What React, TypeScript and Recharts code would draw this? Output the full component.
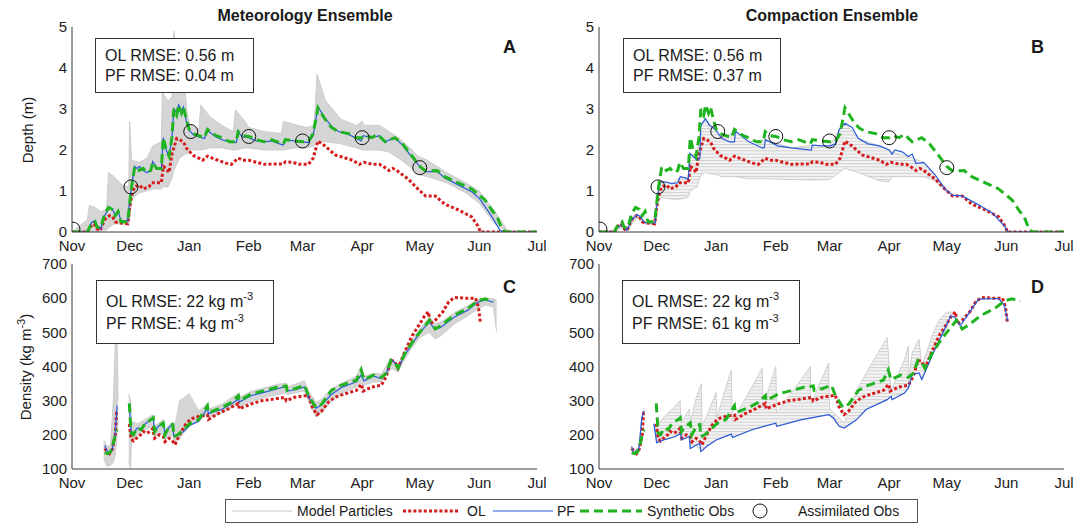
import React from "react";
import { ComposedChart, Line, Area, XAxis, YAxis } from "recharts";

const FONT = '"Liberation Sans", Arial, Helvetica, sans-serif';

// days since Nov 1
const MONTH_TICKS = [0, 30, 61, 92, 120, 151, 181, 212, 242];
const MONTH_LABELS = ["Nov", "Dec", "Jan", "Feb", "Mar", "Apr", "May", "Jun", "Jul"];
const DEPTH_TICKS = [0, 1, 2, 3, 4, 5];
const DENS_TICKS = [100, 200, 300, 400, 500, 600, 700];
const DENS_MINOR = [120, 140, 160, 180, 220, 240, 260, 280, 320, 340, 360, 380, 420, 440, 460, 480, 520, 540, 560, 580, 620, 640, 660, 680];

// ---- depth (m) ----
const synDepth = [
  [0, 0], [8, 0], [10, 0.2], [12, 0.25], [13, 0.12], [15, 0.1], [17, 0.45], [19, 0.6], [21, 0.55], [22.5, 0.4],
  [24, 0.5], [25.5, 0.25], [29, 0.25], [30, 0.7], [31, 1.1], [32.5, 1.55], [34, 1.6], [35, 1.5], [37, 1.55], [39, 1.45],
  [41, 1.5], [42, 1.7], [44, 1.55], [46.5, 1.55], [47.5, 2.3], [49, 2.0], [50.5, 1.85], [52, 2.3], [53, 3.0], [54.5, 2.85],
  [55.5, 3.1], [57, 2.9], [58, 3.05], [59.5, 2.75], [61, 2.5], [63, 2.4], [66, 2.35], [69, 2.3], [70.5, 2.5], [72, 2.45],
  [75, 2.35], [78, 2.3], [82, 2.2], [85.5, 2.2], [86.5, 2.45], [89, 2.35], [92, 2.33], [96, 2.25], [100, 2.2], [104, 2.25],
  [108, 2.18], [110, 2.15], [111, 2.25], [116, 2.22], [120, 2.2], [123, 2.2], [125.5, 2.4], [128, 3.03], [131.7, 2.75],
  [135, 2.55], [138.6, 2.45], [144, 2.4], [148, 2.3], [151, 2.3], [153, 2.35], [156, 2.3], [159, 2.38], [163, 2.2],
  [168, 2.3], [172, 2.15], [177, 1.85], [181, 1.6], [184, 1.49], [190, 1.5], [194, 1.35], [201, 1.2], [208, 1.05],
  [215, 0.78], [219, 0.5], [221, 0.4], [224, 0.05], [226, 0], [242, 0],
];
const olDepth = [
  [0, 0], [8, 0], [10, 0.15], [11.5, 0.2], [13, 0.08], [14.5, 0.03], [17, 0.3], [19.5, 0.4], [21, 0.38], [22.5, 0.25],
  [24, 0.22], [29, 0.2], [30.5, 0.75], [31.5, 0.95], [32.5, 1.1], [35, 1.15], [37, 1.05], [40, 1.1], [41.5, 1.2], [44, 1.2],
  [46.5, 1.2], [47.5, 1.6], [49, 1.55], [50.5, 1.45], [52, 1.9], [53, 2.05], [54.5, 2.28], [56, 2.25], [58, 2.2],
  [59.5, 2.05], [61, 1.97], [63, 1.87], [66, 1.8], [68, 1.75], [70.5, 1.85], [73, 1.8], [76, 1.75], [80, 1.68], [83, 1.65],
  [86.5, 1.8], [89, 1.75], [92, 1.75], [96, 1.7], [100, 1.65], [105, 1.66], [110, 1.66], [111, 1.71], [115, 1.7],
  [118, 1.65], [123, 1.65], [125.5, 1.8], [128, 2.22], [131.7, 2.1], [134, 2.0], [137, 1.88], [142.7, 1.8], [146, 1.75],
  [149.5, 1.65], [152, 1.7], [156.5, 1.65], [160, 1.65], [162, 1.6], [165, 1.5], [167, 1.55], [169, 1.5], [175, 1.29],
  [180, 1.05], [184, 0.88], [189, 0.88], [194, 0.68], [201, 0.54], [208, 0.37], [211.5, 0.13], [212.5, 0], [242, 0],
];
const assimDepth = [[0.5, 0.07], [30.7, 1.1], [61.8, 2.45], [92, 2.33], [120, 2.22], [151, 2.3], [181, 1.57]];
const pfDepthA = [
  [0, 0], [8, 0], [10, 0.22], [11.5, 0.27], [13, 0.15], [15, 0.08], [17, 0.4], [19.5, 0.6], [21, 0.55], [22.5, 0.42],
  [24, 0.5], [25.5, 0.27], [29, 0.27], [30, 0.75], [31, 1.1], [32.5, 1.6], [34, 1.55], [35, 1.6], [37, 1.5], [39, 1.45],
  [41, 1.5], [42, 1.72], [44, 1.58], [46.5, 1.55], [47.5, 2.3], [49, 2.0], [50.5, 1.85], [52, 2.3], [53, 3.0], [54.5, 2.9],
  [55.5, 3.1], [57, 2.95], [58, 3.05], [59.5, 2.7], [61, 2.48], [63, 2.38], [66, 2.32], [69, 2.28], [70.5, 2.48], [72, 2.42],
  [75, 2.32], [78, 2.25], [82, 2.2], [85.5, 2.18], [86.5, 2.42], [89, 2.32], [92, 2.3], [96, 2.22], [100, 2.2], [104, 2.22],
  [108, 2.15], [110, 2.12], [111, 2.25], [116, 2.22], [120, 2.2], [123, 2.18], [125.5, 2.35], [128, 3.05], [131.7, 2.78],
  [135, 2.58], [138.6, 2.45], [144, 2.38], [148, 2.28], [150.5, 2.22], [151.5, 2.35], [156, 2.3], [160, 2.35], [163, 2.2],
  [168, 2.3], [172, 2.12], [177, 1.82], [181, 1.6], [184, 1.47], [190, 1.48], [194, 1.32], [201, 1.15], [208, 0.98],
  [212, 0.82], [218, 0.41], [222.7, 0.05], [225, 0], [242, 0],
];
// [day, low, high] envelope of the model particles
const grayDepthA = [
  [0, 0, 0], [8, 0, 0.3], [9, 0, 0.65], [12, 0, 0.6], [15, 0.02, 0.5], [18, 0.05, 0.55], [19, 0.1, 1.45], [22, 0.2, 1.35],
  [26, 0.2, 1.15], [29.5, 0.2, 1.1], [30, 0.3, 2.7], [31, 0.8, 1.75], [35, 0.95, 1.7], [39, 1.0, 1.8], [42, 1.05, 2.1],
  [46.5, 1.05, 2.2], [47, 1.1, 3.4], [50, 1.1, 3.2], [52, 1.3, 3.3], [53, 1.5, 4.9], [56, 1.8, 3.6], [59, 1.9, 3.4],
  [60, 1.9, 2.9], [61, 2.0, 2.65], [66, 2.0, 2.5], [67, 2.0, 3.1], [72, 2.05, 2.8], [78, 2.05, 2.6], [84, 2.0, 2.45],
  [85, 2.0, 2.98], [90, 2.05, 2.7], [92, 2.05, 2.55], [100, 2.0, 2.45], [109, 2.0, 2.4], [110, 2.0, 2.7], [116, 2.05, 2.62],
  [122, 2.05, 2.55], [126, 2.1, 2.6], [127.5, 2.2, 3.85], [132, 2.2, 3.2], [140, 2.15, 2.75], [148, 2.05, 2.6],
  [151, 2.0, 2.7], [152, 2.0, 2.6], [160, 2.0, 2.6], [165, 1.95, 2.45], [170, 1.8, 2.3], [177, 1.55, 2.0], [180, 1.4, 1.85],
  [185, 1.35, 1.75], [195, 1.2, 1.45], [205, 0.95, 1.2], [212, 0.7, 1.0], [220, 0.2, 0.5], [227, 0, 0.02], [242, 0, 0],
];
const pfDepthB = [
  [0, 0], [7.6, 0], [10, 0.12], [12, 0.17], [13, 0.1], [14.6, 0.04], [17, 0.3], [19.8, 0.42], [21.5, 0.38], [22.5, 0.3],
  [24, 0.23], [29.3, 0.22], [30.3, 0.85], [32, 1.23], [35, 1.22], [38, 1.18], [41, 1.2], [42.3, 1.35], [46.5, 1.3],
  [47.3, 1.92], [51, 1.75], [52.5, 1.8], [53, 2.6], [55.4, 2.76], [57.5, 2.6], [60.6, 2.5], [64, 2.28], [68, 2.2],
  [70.5, 2.2], [71, 2.46], [78, 2.2], [85, 2.05], [86, 2.05], [86.6, 2.25], [93, 2.1], [100, 2.05], [110.5, 2.0], [111, 2.12],
  [116, 2.1], [120.5, 2.1], [123, 2.15], [125, 2.5], [128, 2.65], [131.7, 2.55], [135, 2.28], [140, 2.15], [146, 2.1],
  [151, 2.0], [152.5, 1.9], [154, 2.0], [158, 1.95], [161, 1.84], [163, 1.9], [165, 1.67], [169, 1.7], [175, 1.39],
  [180, 1.05], [184, 0.9], [189, 0.88], [198, 0.65], [205, 0.45], [211.5, 0.12], [212.5, 0], [242, 0],
];
const grayDepthB = [
  [0, 0, 0], [8, 0, 0.05], [12, 0.1, 0.2], [14.6, 0.03, 0.08], [19.8, 0.35, 0.45], [24, 0.2, 0.25], [29.3, 0.2, 0.23],
  [30.3, 0.7, 0.9], [32, 0.85, 1.23], [38, 0.8, 1.18], [42.3, 0.8, 1.35], [46.5, 0.85, 1.3], [47.3, 1.0, 1.92],
  [51, 1.1, 1.8], [53, 1.4, 2.6], [55.4, 1.45, 2.76], [60.6, 1.4, 2.5], [64, 1.35, 2.28], [71, 1.35, 2.46], [78, 1.3, 2.2],
  [86.6, 1.3, 2.25], [100, 1.28, 2.05], [111, 1.27, 2.12], [120, 1.28, 2.1], [125, 1.45, 2.5], [128, 1.55, 2.65],
  [135, 1.45, 2.28], [146, 1.25, 2.1], [151, 1.22, 2.0], [152.5, 1.35, 1.95], [161, 1.35, 1.84], [169, 1.35, 1.7],
  [175, 1.25, 1.39], [180, 1.0, 1.05], [184, 0.9, 0.9],
];

// ---- density (kg m-3) ----
const olDens = [
  [17, 160], [18.5, 150], [19.5, 145], [21, 158], [22.5, 200], [23.2, 265], [24, 272], [24.5, null], [29.8, 232],
  [30.8, 188], [32, 182], [33.5, 190], [35, 195], [37, 210], [39, 205], [41, 212], [42, 218], [43, 190], [45.5, 200],
  [47.5, 195], [48.4, 180], [50.5, 190], [52, 185], [53.6, 171], [56, 200], [59, 230], [62, 247], [66.6, 255], [70.5, 258],
  [71, 245], [76, 262], [81, 275], [86.6, 292], [87, 276], [93, 290], [98.7, 300], [105.7, 305], [111, 310], [111.5, 300],
  [116, 310], [123, 316], [125, 281], [127.5, 259], [130, 270], [133.5, 296], [137, 310], [142, 320], [148, 330],
  [150.7, 348], [151.5, 328], [156, 340], [161, 345], [163.5, 370], [166, 418], [168, 415], [169.7, 395], [173, 440],
  [177, 490], [181, 525], [183.5, 548], [185.5, 560], [186.5, 525], [189, 535], [193, 560], [196, 589], [199, 602],
  [205, 600], [210, 600], [211.5, 575], [212.5, 530],
];
const synDens = [
  [17, 148], [18.5, 145], [20, 150], [21, 165], [22.5, 200], [23.5, 215], [24.5, null], [29.8, 292], [30.8, 205],
  [32, 200], [34, 220], [36, 215], [38, 233], [41, 244], [42.3, 250], [43, 210], [45, 225], [47.5, 235], [48.3, 200],
  [51, 228], [52.5, 230], [53, 195], [55, 200], [58, 215], [61.4, 233], [66, 245], [70.5, 285], [71, 265], [78, 280],
  [83, 295], [86.6, 315], [87, 300], [93.5, 320], [100.5, 330], [107, 340], [111.5, 343], [112, 330], [116, 335], [121, 345],
  [123, 315], [127, 280], [130, 290], [135, 330], [140, 345], [148, 360], [150.5, 390], [152, 362], [157, 375], [161, 368],
  [163.5, 380], [166, 418], [168, 412], [169.7, 395], [173, 435], [177, 470], [181, 500], [186, 535], [189, 510],
  [192, 520], [199, 550], [206, 570], [211, 592], [215, 598], [219.3, 590],
];
const pfDensC = [
  [17, 168], [18.5, 150], [20, 150], [21, 160], [22.5, 205], [23.5, 286], [24.5, null], [29.8, 285], [30.8, 210],
  [32, 205], [34, 220], [36, 217], [38, 232], [41, 244], [42.3, 248], [43, 212], [45, 225], [47.5, 236], [48.3, 205],
  [51, 225], [52.5, 228], [53, 195], [55, 198], [58, 210], [61.4, 228], [66, 240], [70.5, 278], [71, 262], [78, 275],
  [83, 290], [86.6, 305], [87, 296], [93.5, 315], [100.5, 325], [107, 335], [111.5, 342], [112, 328], [116, 332],
  [121, 340], [123, 310], [127, 278], [130, 288], [135, 318], [140, 338], [148, 355], [150.5, 375], [152, 358], [157, 372],
  [161, 365], [163.5, 378], [166, 418], [168, 412], [169.7, 395], [173, 432], [177, 465], [181, 500], [186, 530],
  [189, 508], [192, 515], [199, 545], [206, 565], [211, 588], [215, 595], [219.3, 588],
];
const grayDensC1 = [
  [16.5, 130, 185], [18, 108, 170], [20, 110, 165], [21.5, 120, 300], [22.5, 140, 470], [23.5, 200, 480], [24, 240, 300],
];
const grayDensC2 = [
  [29.5, 120, 320], [30.5, 100, 300], [31, 185, 240], [34, 200, 232], [38, 215, 245], [42, 225, 258], [43, 195, 225],
  [47.5, 205, 245], [48.3, 185, 215], [52.5, 200, 240], [53, 175, 210], [56, 190, 300], [61, 225, 320], [66, 240, 270],
  [70.5, 262, 292], [71, 250, 275], [78, 265, 290], [86.6, 290, 322], [87, 282, 310], [93.5, 298, 328], [100.5, 310, 338],
  [107, 318, 348], [111.5, 322, 352], [112, 318, 340], [121, 328, 358], [123, 300, 330], [127, 252, 295], [130, 265, 305],
  [135, 300, 335], [140, 320, 350], [148, 340, 372], [150.5, 350, 402], [152, 345, 372], [157, 355, 380], [161, 355, 378],
  [166, 395, 425], [169.7, 385, 402], [173, 420, 445], [177, 455, 480], [181, 485, 510], [186, 500, 545], [189, 480, 525],
  [192, 490, 530], [199, 525, 558], [206, 548, 578], [211, 568, 595], [215, 580, 600], [219.3, 575, 598], [221, 500, 595],
];
const pfDensD = [
  [17, 165], [18, 145], [20.8, 160], [22.3, 250], [23.5, 270], [24.5, null], [28.6, 232], [30, 177], [33.5, 185],
  [39.8, 195], [42.5, 205], [43, 185], [47, 195], [47.5, 160], [50.7, 170], [52.5, 175], [53, 151], [56, 166], [61, 185],
  [68.8, 202], [69.5, 192], [79.6, 215], [92, 234], [92.5, 225], [105, 244], [119.5, 259], [122, 250], [125, 225],
  [127.6, 220], [134, 244], [139, 274], [150, 303], [152, 313], [152.5, 303], [159, 322], [161, 337], [163, 376],
  [166.5, 381], [168, 362], [174, 440], [179, 499], [183, 548], [185, 545], [188, 519], [197.5, 597], [208, 599],
  [211, 580], [212.7, 533],
];
const grayDensD1 = [[17, 165, 170], [18, 145, 150], [20.8, 160, 165], [22.3, 250, 255], [23.5, 270, 272]];
const grayDensD2 = [
  [28.6, 232, 235], [30, 177, 225], [33.5, 185, 250], [39.8, 195, 285], [42.3, 205, 300], [42.6, 187, 235], [47, 195, 275],
  [47.5, 160, 235], [50.7, 170, 310], [53.3, 151, 350], [53.6, 152, 225], [56, 166, 255], [61, 185, 325], [61.3, 186, 250],
  [68.8, 202, 390], [69.5, 192, 240], [79.6, 215, 340], [85, 222, 395], [85.3, 223, 280], [92, 234, 400], [92.5, 225, 265],
  [105, 244, 360], [110, 250, 400], [110.3, 250, 290], [119.5, 259, 410], [120, 258, 275], [125, 225, 250],
  [127.6, 220, 235], [134, 244, 330], [139, 274, 380], [150, 303, 485], [152, 313, 330], [159, 322, 420], [161, 337, 460],
  [161.3, 337, 365], [163, 376, 440], [166.5, 381, 480], [168, 362, 400], [174, 440, 500], [177.5, 480, 540],
  [181, 515, 558], [183, 548, 560], [185, 545, 548], [188, 519, 520],
];

const GRAY = "#c6c6c6";
const RED = "#d41c1c";
const BLUE = "#2a5bd8";
const GREEN = "#1fb41f";

const pts = (a: (number | null)[][]) => a.map(([d, v]) => ({ d, v }));
const band = (a: number[][]) => a.map(([d, lo, hi]) => ({ d, r: [lo, hi] }));
const monthFmt = (v: number) => MONTH_LABELS[MONTH_TICKS.indexOf(v)] ?? "";

const grayArea = (a: number[][], key: string, fill: string) => (
  <Area key={key} data={band(a)} dataKey="r" type="linear" stroke={GRAY} strokeWidth={0.8}
    fill={fill} fillOpacity={1} isAnimationActive={false} dot={false} activeDot={false} />
);
const olLine = (a: (number | null)[][]) => (
  <Line key="ol" data={pts(a)} dataKey="v" type="linear" stroke={RED} strokeWidth={3}
    strokeDasharray="3 2.2" dot={false} isAnimationActive={false} />
);
const pfLine = (a: (number | null)[][]) => (
  <Line key="pf" data={pts(a)} dataKey="v" type="linear" stroke={BLUE} strokeWidth={1.2}
    dot={false} isAnimationActive={false} />
);
const synLine = (a: (number | null)[][]) => (
  <Line key="syn" data={pts(a)} dataKey="v" type="linear" stroke={GREEN} strokeWidth={3}
    strokeDasharray="9 5" dot={false} isAnimationActive={false} />
);
const assimDots = (a: number[][]) => (
  <Line key="as" data={pts(a)} dataKey="v" stroke="none" isAnimationActive={false}
    dot={{ r: 7, stroke: "#111", strokeWidth: 1, fill: "none" }} activeDot={false} />
);

interface PanelProps {
  left: number; top: number; width: number; height: number;
  mTop: number; mRight: number; yWidth: number; xHeight: number;
  yDomain: [number, number]; yTicks: number[]; yMinor?: number[];
  fanId?: string;
  children: React.ReactNode;
}

function Panel(p: PanelProps) {
  const ax = "#3a3a3a";
  const tickStyle = { fontSize: 15, fill: "#222", fontFamily: FONT };
  const anchor = [{ d: 0, v: p.yDomain[0] }, { d: 242, v: p.yDomain[1] }];
  return (
    <div style={{ position: "absolute", left: p.left, top: p.top }}>
      <ComposedChart width={p.width} height={p.height}
        margin={{ top: p.mTop, right: p.mRight, bottom: 0, left: 0 }}>
        {p.fanId && (
          <defs>
            {/* thin stacked lines, like the fan of particles */}
            <pattern id={p.fanId} width={6} height={3.2} patternUnits="userSpaceOnUse">
              <rect width={6} height={3.2} fill="#f3f3f3" />
              <line x1={0} y1={0.5} x2={6} y2={0.5} stroke="#cdcdcd" strokeWidth={0.9} />
            </pattern>
          </defs>
        )}
        <XAxis dataKey="d" type="number" domain={[0, 242]} ticks={MONTH_TICKS} interval={0}
          tickFormatter={monthFmt} tickLine={false} tickSize={6} tickMargin={2}
          axisLine={{ stroke: ax }} tick={tickStyle} height={p.xHeight} allowDataOverflow />
        <XAxis xAxisId="b" dataKey="d" type="number" domain={[0, 242]} ticks={MONTH_TICKS} interval={0}
          mirror tick={false} tickSize={5} tickLine={{ stroke: ax }} axisLine={false} height={0} allowDataOverflow />
        <XAxis xAxisId="t" dataKey="d" type="number" domain={[0, 242]} ticks={MONTH_TICKS} interval={0}
          orientation="top" mirror tick={false} tickSize={5} tickLine={{ stroke: ax }}
          axisLine={{ stroke: ax }} height={0} allowDataOverflow />
        <YAxis type="number" domain={p.yDomain} ticks={p.yTicks} interval={0} tickLine={false}
          tickSize={3} tickMargin={2} axisLine={{ stroke: ax }} tick={tickStyle} width={p.yWidth} allowDataOverflow />
        <YAxis yAxisId="l" type="number" domain={p.yDomain} ticks={p.yTicks} interval={0} mirror tick={false}
          tickSize={5} tickLine={{ stroke: ax }} axisLine={false} width={0} allowDataOverflow />
        <YAxis yAxisId="r" type="number" domain={p.yDomain} ticks={p.yTicks} interval={0} orientation="right"
          mirror tick={false} tickSize={5} tickLine={{ stroke: ax }} axisLine={{ stroke: ax }} width={0} allowDataOverflow />
        {p.yMinor && (
          <YAxis yAxisId="lm" type="number" domain={p.yDomain} ticks={p.yMinor} interval={0} mirror tick={false}
            tickSize={2.5} tickLine={{ stroke: ax }} axisLine={false} width={0} allowDataOverflow />
        )}
        {p.yMinor && (
          <YAxis yAxisId="rm" type="number" domain={p.yDomain} ticks={p.yMinor} interval={0} orientation="right"
            mirror tick={false} tickSize={2.5} tickLine={{ stroke: ax }} axisLine={false} width={0} allowDataOverflow />
        )}
        <Line xAxisId="b" yAxisId="l" data={anchor} dataKey="v" stroke="none" dot={false} isAnimationActive={false} />
        <Line xAxisId="t" yAxisId="r" data={anchor} dataKey="v" stroke="none" dot={false} isAnimationActive={false} />
        {p.yMinor && <Line xAxisId="b" yAxisId="lm" data={anchor} dataKey="v" stroke="none" dot={false} isAnimationActive={false} />}
        {p.yMinor && <Line xAxisId="t" yAxisId="rm" data={anchor} dataKey="v" stroke="none" dot={false} isAnimationActive={false} />}
        {p.children}
      </ComposedChart>
    </div>
  );
}

const abs = (left: number, top: number, extra: React.CSSProperties = {}): React.CSSProperties => ({
  position: "absolute", left, top, fontFamily: FONT, color: "#1a1a1a", whiteSpace: "nowrap", ...extra,
});

function RmseBox({ left, top, width, height, ol, pf, dens }: {
  left: number; top: number; width: number; height: number; ol: string; pf: string; dens?: boolean;
}) {
  const unit = dens ? (
    <>kg m<sup style={{ fontSize: 11, verticalAlign: "7px", lineHeight: 0 }}>-3</sup></>
  ) : "m";
  return (
    <div style={abs(left, top, {
      width, height, boxSizing: "border-box", border: "1px solid #333", background: "#fff",
      fontSize: 16, lineHeight: dens ? "22px" : "20px", padding: dens ? "10px 0 0 9px" : "7px 0 0 9px",
    })}>
      <div>OL RMSE: {ol} {unit}</div>
      <div>PF RMSE: {pf} {unit}</div>
    </div>
  );
}

function Legend() {
  const item = (x: number, el: React.ReactNode) => (
    <div style={{ position: "absolute", left: x, top: 0, height: 22, display: "flex", alignItems: "center" }}>{el}</div>
  );
  const seg = (w: number, stroke: string, sw: number, dash?: string) => (
    <svg width={w} height={10}><line x1={0} y1={5} x2={w} y2={5} stroke={stroke} strokeWidth={sw} strokeDasharray={dash} /></svg>
  );
  const txt = (s: string) => <span style={{ fontSize: 14, color: "#1a1a1a" }}>{s}</span>;
  return (
    <div style={abs(225, 499, { width: 693, height: 24, boxSizing: "border-box", border: "1px solid #555", background: "#fff" })}>
      {item(6, seg(60, GRAY, 1))}
      {item(71, txt("Model Particles"))}
      {item(177, seg(56, RED, 3, "3 2.2"))}
      {item(241, txt("OL"))}
      {item(267, seg(60, BLUE, 1.2))}
      {item(331, txt("PF"))}
      {item(354, seg(62, GREEN, 3, "9 5"))}
      {item(421, txt("Synthetic Obs"))}
      {item(526, <svg width={16} height={16}><circle cx={8} cy={8} r={7} stroke="#111" fill="none" /></svg>)}
      {item(572, txt("Assimilated Obs"))}
    </div>
  );
}

export default function App() {
  return (
    <div style={{ position: "absolute", left: 0, top: 0, width: 1089, height: 524, background: "#fff", overflow: "hidden" }}>
      <Panel left={0} top={0} width={560} height={262} mTop={27} mRight={23} yWidth={72} xHeight={30}
        yDomain={[0, 5]} yTicks={DEPTH_TICKS}>
        {grayArea(grayDepthA, "g", "#d5d5d5")}
        {olLine(olDepth)}
        {pfLine(pfDepthA)}
        {synLine(synDepth)}
        {assimDots(assimDepth)}
      </Panel>
      <Panel left={545} top={0} width={544} height={262} mTop={27} mRight={25} yWidth={54} xHeight={30}
        yDomain={[0, 5]} yTicks={DEPTH_TICKS} fanId="fanB">
        {grayArea(grayDepthB, "g", "url(#fanB)")}
        {olLine(olDepth)}
        {pfLine(pfDepthB)}
        {synLine(synDepth)}
        {assimDots(assimDepth)}
      </Panel>
      <Panel left={0} top={252} width={560} height={250} mTop={12} mRight={23} yWidth={72} xHeight={33}
        yDomain={[100, 700]} yTicks={DENS_TICKS} yMinor={DENS_MINOR}>
        {grayArea(grayDensC1, "g1", "#d5d5d5")}
        {grayArea(grayDensC2, "g2", "#d5d5d5")}
        {olLine(olDens)}
        {pfLine(pfDensC)}
        {synLine(synDens)}
      </Panel>
      <Panel left={545} top={252} width={544} height={250} mTop={12} mRight={25} yWidth={54} xHeight={33}
        yDomain={[100, 700]} yTicks={DENS_TICKS} yMinor={DENS_MINOR} fanId="fanD">
        {grayArea(grayDensD1, "g1", "url(#fanD)")}
        {grayArea(grayDensD2, "g2", "url(#fanD)")}
        {olLine(olDens)}
        {pfLine(pfDensD)}
        {synLine(synDens)}
      </Panel>

      <div style={abs(305, 7, { transform: "translateX(-50%)", fontSize: 16, fontWeight: "bold" })}>Meteorology Ensemble</div>
      <div style={abs(832, 7, { transform: "translateX(-50%)", fontSize: 16, fontWeight: "bold" })}>Compaction Ensemble</div>

      <div style={abs(27, 130, { transform: "translate(-50%, -50%) rotate(-90deg)", fontSize: 15 })}>Depth (m)</div>
      <div style={abs(25, 367, { transform: "translate(-50%, -50%) rotate(-90deg)", fontSize: 15 })}>
        Density (kg m<sup style={{ fontSize: 11, verticalAlign: "6px", lineHeight: 0 }}>-3</sup>)
      </div>

      <RmseBox left={95} top={38} width={159} height={55} ol="0.56" pf="0.04" />
      <RmseBox left={623} top={38} width={158} height={55} ol="0.56" pf="0.37" />
      <RmseBox left={96} top={280} width={178} height={64} ol="22" pf="4" dens />
      <RmseBox left={622} top={280} width={178} height={64} ol="22" pf="61" dens />

      <div style={abs(503, 37, { fontSize: 18, fontWeight: "bold" })}>A</div>
      <div style={abs(1031, 37, { fontSize: 18, fontWeight: "bold" })}>B</div>
      <div style={abs(503, 277, { fontSize: 18, fontWeight: "bold" })}>C</div>
      <div style={abs(1031, 277, { fontSize: 18, fontWeight: "bold" })}>D</div>

      <Legend />
    </div>
  );
}
